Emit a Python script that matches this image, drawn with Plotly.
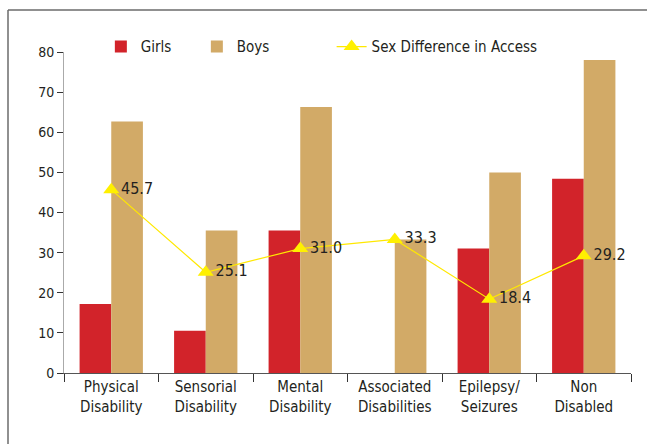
import plotly.graph_objects as go

categories = ["Physical<br>Disability", "Sensorial<br>Disability", "Mental<br>Disability",
              "Associated<br>Disabilities", "Epilepsy/<br>Seizures", "Non<br>Disabled"]
girls = [17.2, 10.5, 35.5, 0, 31.0, 48.4]
boys = [62.7, 35.5, 66.3, 33.3, 50.0, 78.0]
sex_diff = [45.7, 25.1, 31.0, 33.3, 18.4, 29.2]
y_ticks = [0, 10, 20, 30, 40, 50, 60, 70, 80]

FONT = "Liberation Sans Narrow, DejaVu Sans Condensed, Arial Narrow, sans-serif"
TXT = "#231F20"

fig = go.Figure()
fig.add_trace(go.Bar(x=categories, y=girls, name="Girls", marker_color="#D2232A",
                     marker_line_width=0, legend="legend"))
fig.add_trace(go.Bar(x=categories, y=boys, name="Boys", marker_color="#D2AA67",
                     marker_line_width=0, legend="legend"))
fig.add_trace(go.Scatter(x=categories, y=sex_diff, name="Sex Difference in Access",
                         mode="lines+markers+text",
                         line=dict(color="#FFE800", width=1.2),
                         marker=dict(symbol="triangle-up", size=14, color="#FFF000"),
                         text=[f"{v:.1f}" for v in sex_diff],
                         textposition="middle right",
                         textfont=dict(family=FONT, size=16, color=TXT),
                         legend="legend2"))

PW = 567
fx0 = (8 - 64) / PW
fx1 = (647 - 64) / PW
fy_top = (373 - 10) / 321
fy_bot = (373 - 480) / 321

fig.update_layout(
    width=647, height=444,
    margin=dict(l=64, r=16, t=52, b=71, autoexpand=False),
    paper_bgcolor="white", plot_bgcolor="white",
    font=dict(family=FONT, size=15, color=TXT),
    barmode="group", bargap=0.33, bargroupgap=0,
    legend=dict(orientation="h", x=0.065, xanchor="left", y=1.016, yanchor="middle",
                entrywidth=51, font=dict(size=15), bgcolor="rgba(0,0,0,0)",
                traceorder="normal"),
    legend2=dict(orientation="h", x=0.472, xanchor="left", y=1.016, yanchor="middle",
                 font=dict(size=15), bgcolor="rgba(0,0,0,0)"),
    shapes=[
        dict(type="line", xref="paper", yref="paper", x0=fx0, x1=fx0, y0=fy_top, y1=fy_bot,
             line=dict(color="#6b6b6b", width=1.5), layer="below"),
        dict(type="line", xref="paper", yref="paper", x0=fx0, x1=fx1, y0=fy_top, y1=fy_top,
             line=dict(color="#6b6b6b", width=1.5), layer="below"),
    ],
)
fig.update_xaxes(showline=True, linecolor="#555", linewidth=1,
                 ticks="outside", tickson="boundaries", ticklen=8, tickcolor="#333",
                 tickfont=dict(size=15), showgrid=False)
fig.update_yaxes(range=[0, 80], tickvals=y_ticks, showline=True, linecolor="#aaa",
                 linewidth=1, ticks="outside", ticklen=6, tickcolor="#333",
                 tickfont=dict(size=14), showgrid=False, zeroline=False)

fig.write_html("out.html", config={"displayModeBar": False},
               post_script="document.body.style.margin='0';document.body.style.overflow='hidden';")
